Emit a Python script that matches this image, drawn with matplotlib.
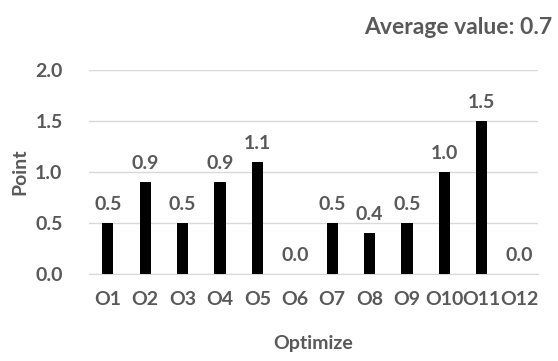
import matplotlib
matplotlib.use("Agg")
import matplotlib.pyplot as plt

categories = ["O1", "O2", "O3", "O4", "O5", "O6", "O7", "O8", "O9", "O10", "O11", "O12"]
values = [0.5, 0.9, 0.5, 0.9, 1.1, 0.0, 0.5, 0.4, 0.5, 1.0, 1.5, 0.0]
yticks = [0.0, 0.5, 1.0, 1.5, 2.0]
title = "Average value: 0.7"

plt.rcParams['font.family'] = ['Lato', 'DejaVu Sans']
plt.rcParams['font.weight'] = 'bold'
txt = '#595959'
fs = 14

fig = plt.figure(figsize=(5.58, 3.61), dpi=100)
ax = fig.add_axes([89/558, 1 - 274/361, (538-89)/558, (274-70)/361])

x = list(range(len(categories)))
ax.bar(x, values, width=0.3, color='black', zorder=3)
for xi, v in zip(x, values):
    ax.text(xi, v + 0.1, f"{v:.1f}", ha='center', va='bottom', fontsize=fs,
            fontweight='bold', color=txt)

ax.set_xlim(-0.5, len(categories) - 0.5)
ax.set_ylim(0, 2.0)
ax.set_yticks(yticks)
ax.set_yticklabels([f"{t:.1f}" for t in yticks])
ax.set_xticks(x)
ax.set_xticklabels(categories)
ax.tick_params(axis='x', length=0, labelsize=fs, labelcolor=txt, pad=12)
ax.tick_params(axis='y', length=0, labelsize=fs, labelcolor=txt, pad=19)
for lab in ax.get_xticklabels() + ax.get_yticklabels():
    lab.set_fontweight('bold')
ax.yaxis.grid(True, color='#d9d9d9', linewidth=1, zorder=0)
for s in ['top', 'right', 'left']:
    ax.spines[s].set_visible(False)
ax.spines['bottom'].set_color('#d9d9d9')

ax.set_xlabel("Optimize", fontsize=fs, fontweight='bold', color=txt, labelpad=20)
ax.set_ylabel("Point", fontsize=fs, fontweight='bold', color=txt, labelpad=5)
fig.text(552/558, 1 - 27/361, title, ha='right', va='center', fontsize=16.5,
         fontweight='bold', color=txt)

fig.savefig("out.png", dpi=100)
